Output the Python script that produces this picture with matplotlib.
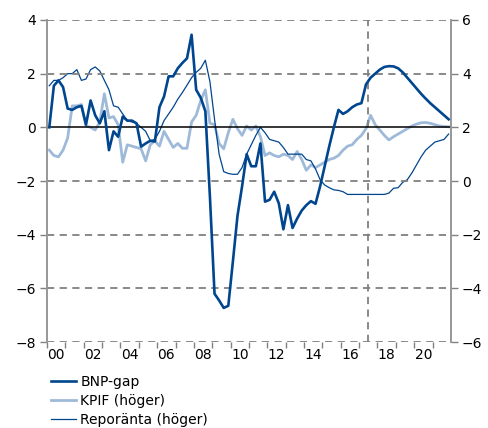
import numpy as np
import matplotlib
matplotlib.use("Agg")
import matplotlib.pyplot as plt

# quarterly data 2000Q1 - 2021Q4 (forecast from 2017Q3)
years = list(range(2000, 2022))
quarters = [y + (q + 0.5) / 4 for y in years for q in range(4)]

bnp_gap = [0.0, 1.55, 1.75, 1.5, 0.7, 0.65, 0.75, 0.8,
           0.1, 1.0, 0.45, 0.15, 0.6, -0.85, -0.15, -0.35,
           0.4, 0.25, 0.25, 0.15, -0.72, -0.6, -0.5, -0.53,
           0.75, 1.15, 1.9, 1.9, 2.2, 2.4, 2.57, 3.45,
           1.4, 1.1, 0.6, -2.6, -6.2, -6.45, -6.73, -6.65,
           -5.0, -3.3, -2.2, -1.0, -1.45, -1.45, -0.6, -2.77,
           -2.7, -2.4, -2.83, -3.8, -2.9, -3.75, -3.4, -3.1,
           -2.9, -2.75, -2.85, -2.2, -1.45, -0.7, 0.0, 0.65,
           0.5, 0.6, 0.75, 0.85, 0.9, 1.6, 1.85, 2.0,
           2.15, 2.25, 2.28, 2.27, 2.2, 2.05, 1.85, 1.65,
           1.45, 1.25, 1.07, 0.9, 0.75, 0.6, 0.45, 0.3]

kpif = [1.15, 0.95, 0.9, 1.15, 1.6, 2.8, 2.8, 2.85,
        2.05, 2.0, 1.9, 2.2, 3.25, 2.35, 2.4, 2.1,
        0.7, 1.35, 1.3, 1.25, 1.2, 0.75, 1.35, 1.5,
        1.3, 1.85, 1.55, 1.25, 1.4, 1.22, 1.22, 2.2,
        2.45, 3.0, 3.4, 2.15, 2.1, 1.4, 1.2, 1.8,
        2.3, 1.95, 1.7, 2.05, 1.9, 2.05, 1.65, 0.95,
        1.05, 0.95, 0.9, 1.0, 0.95, 0.8, 1.1, 0.8,
        0.4, 0.6, 0.5, 0.6, 0.7, 0.8, 0.85, 0.95,
        1.15, 1.3, 1.35, 1.55, 1.7, 1.95, 2.45, 2.1,
        1.9, 1.7, 1.53, 1.65, 1.75, 1.85, 1.95, 2.05,
        2.12, 2.17, 2.18, 2.15, 2.1, 2.05, 2.03, 2.02]

repo = [3.55, 3.75, 3.75, 3.85, 4.0, 4.0, 4.15, 3.75,
        3.8, 4.15, 4.25, 4.1, 3.75, 3.4, 2.8, 2.75,
        2.5, 2.25, 2.2, 2.15, 2.0, 1.85, 1.5, 1.55,
        1.85, 2.25, 2.5, 2.75, 3.05, 3.3, 3.57, 3.85,
        4.05, 4.2, 4.5, 3.7, 2.3, 1.0, 0.35, 0.28,
        0.25, 0.25, 0.5, 1.0, 1.35, 1.7, 2.0, 1.8,
        1.55, 1.5, 1.45, 1.25, 1.0, 1.0, 1.0, 1.0,
        0.8, 0.75, 0.45, 0.05, -0.15, -0.25, -0.33, -0.35,
        -0.4, -0.5, -0.5, -0.5, -0.5, -0.5, -0.5, -0.5,
        -0.5, -0.5, -0.45, -0.27, -0.25, -0.05, 0.05, 0.3,
        0.6, 0.9, 1.15, 1.3, 1.45, 1.5, 1.55, 1.75]

forecast_start = 2017.5
dark = '#00468f'
light = '#9fbad9'
grey = '#808080'

fig = plt.figure(figsize=(4.88, 4.28), dpi=100)
ax = fig.add_axes([0.0963, 0.2009, 0.8277, 0.7524])
ax2 = ax.twinx()

ax2.plot(quarters, kpif, color=light, lw=2.0, label='KPIF (höger)')
ax2.plot(quarters, repo, color=dark, lw=0.9, label='Reporänta (höger)')
ax.plot(quarters, bnp_gap, color=dark, lw=1.9, label='BNP-gap', zorder=5)

ax.set_zorder(ax2.get_zorder() + 1)
ax.patch.set_visible(False)

ax.set_xlim(2000, 2022)
ax.set_ylim(-8, 4)
ax2.set_ylim(-6, 6)
ax.set_yticks(np.arange(-8, 5, 2))
ax2.set_yticks(np.arange(-6, 7, 2))

# year ticks, labels for even years at mid-year
ax.set_xticks(range(2000, 2022))
ax.set_xticklabels([])
ax.set_xticks([y + 0.5 for y in range(2000, 2022, 2)], minor=True)
ax.set_xticklabels(['%02d' % (y % 100) for y in range(2000, 2022, 2)], minor=True)
ax.tick_params(axis='x', which='major', length=4, color=grey, width=1)
ax.tick_params(axis='x', which='minor', length=0, pad=4, labelsize=10)
ax.tick_params(axis='y', length=5, color=grey, width=1, labelsize=10, pad=3)
ax2.tick_params(axis='y', length=5, color=grey, width=1, labelsize=10, pad=3)

for y in np.arange(-8, 5, 2):
    if y != 0:
        ax.axhline(y, color=grey, lw=1.3, ls=(0, (4, 3)), zorder=1)
ax.axhline(0, color='black', lw=1.1, zorder=2)
ax.axvline(forecast_start, color=grey, lw=1.3, ls=(0, (4, 3)), zorder=1)

for a in (ax, ax2):
    a.spines['top'].set_visible(False)
    a.spines['bottom'].set_visible(False)
    a.spines['left'].set_color('#999999')
    a.spines['right'].set_color('#999999')
    a.spines['left'].set_linewidth(1.3)
    a.spines['right'].set_linewidth(1.3)

h1, l1 = ax.get_legend_handles_labels()
h2, l2 = ax2.get_legend_handles_labels()
fig.legend(h1 + h2, l1 + l2, loc='upper left', bbox_to_anchor=(0.105, 0.123),
           frameon=False, fontsize=10, handlelength=1.8, handletextpad=0.3,
           labelspacing=0.35, borderpad=0, borderaxespad=0)

fig.savefig('out.png', dpi=100)
